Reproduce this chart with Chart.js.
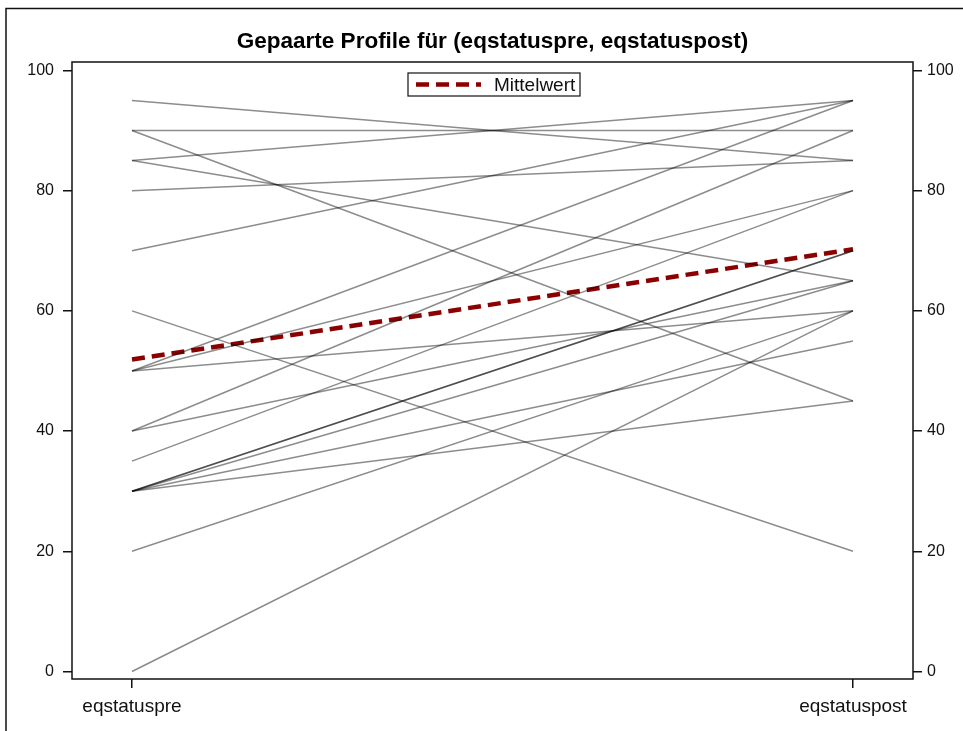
<!DOCTYPE html>
<html lang="de">
<head>
<meta charset="UTF-8">
<title>Gepaarte Profile für (eqstatuspre, eqstatuspost)</title>
<script src="https://cdn.jsdelivr.net/npm/chart.js"></script>
<style>
  body { margin: 0; background: #fff; }
  #wrap { width: 963px; height: 731px; overflow: hidden; }
  canvas { display: block; }
</style>
</head>
<body>
<div id="wrap"><canvas id="profil" width="963" height="731"></canvas></div>
<script>
// Variablen (x-Achse) und Messwerte je Person: vorher / nachher
const variablen = ['eqstatuspre', 'eqstatuspost'];
const werteVor  = [95, 90, 90, 85, 85, 80, 70, 60, 50, 50, 50, 40, 40, 35, 30, 30, 30, 30, 30, 20, 0];
const werteNach = [85, 90, 45, 95, 65, 85, 95, 20, 95, 80, 60, 90, 65, 80, 70, 70, 65, 55, 45, 60, 60];
const yTicks = [0, 20, 40, 60, 80, 100];

const familie = "'Liberation Sans', Arial, sans-serif";
const zahlSchrift = { family: familie, size: 16 };
const textSchrift = { family: familie, size: 19 };
const mittel = arr => arr.reduce((s, v) => s + v, 0) / arr.length;

// eine Linie pro Person
const profile = werteVor.map((v, i) => ({
  label: 'Person ' + (i + 1),
  data: [{ x: 0, y: v }, { x: 1, y: werteNach[i] }],
  borderColor: 'rgba(0,0,0,0.45)',
  borderWidth: 1.5,
  pointRadius: 0
}));

const mittelwert = {
  label: 'Mittelwert',
  data: [{ x: 0, y: mittel(werteVor) }, { x: 1, y: mittel(werteNach) }],
  borderColor: '#8b0000',
  borderWidth: 4.5,
  borderDash: [13, 7],
  pointRadius: 0
};

// Rahmen um Plotbereich, äußerer Rahmen und Legende im Plot
const rahmen = {
  id: 'rahmen',
  afterDraw(chart) {
    const { ctx, chartArea: a } = chart;
    ctx.save();
    ctx.strokeStyle = '#111';
    ctx.lineWidth = 1.5;
    ctx.strokeRect(a.left, a.top, a.right - a.left, a.bottom - a.top);

    ctx.beginPath();
    ctx.moveTo(6, chart.height);
    ctx.lineTo(6, 8.5);
    ctx.lineTo(chart.width, 8.5);
    ctx.stroke();

    // Legende
    const w = 172, h = 23;
    const lx = (a.left + a.right) / 2 - w / 2 + 1.5;
    const ly = a.top + 11;
    ctx.fillStyle = '#fff';
    ctx.fillRect(lx, ly, w, h);
    ctx.lineWidth = 1.2;
    ctx.strokeRect(lx, ly, w, h);

    ctx.beginPath();
    ctx.strokeStyle = mittelwert.borderColor;
    ctx.lineWidth = mittelwert.borderWidth;
    ctx.setLineDash(mittelwert.borderDash);
    ctx.moveTo(lx + 8, ly + h / 2);
    ctx.lineTo(lx + 73, ly + h / 2);
    ctx.stroke();
    ctx.setLineDash([]);

    ctx.fillStyle = '#111';
    ctx.font = `${textSchrift.size}px ${familie}`;
    ctx.textBaseline = 'middle';
    ctx.fillText(mittelwert.label, lx + 86, ly + h / 2 + 1);
    ctx.restore();
  }
};

const yAchse = (pos, breite, abstand) => ({
  type: 'linear',
  position: pos,
  min: -1.25,
  max: 101.4,
  afterBuildTicks: s => { s.ticks = yTicks.map(v => ({ value: v })); },
  afterFit: s => { s.width = breite; },
  ticks: { font: zahlSchrift, color: '#111', padding: abstand },
  grid: { drawOnChartArea: false, tickLength: 9, color: '#111', lineWidth: 1.5 },
  border: { display: false }
});

new Chart(document.getElementById('profil'), {
  type: 'line',
  data: { datasets: [...profile, mittelwert] },
  plugins: [rahmen],
  options: {
    responsive: false,
    animation: false,
    layout: { padding: 0 },
    plugins: {
      legend: { display: false },
      tooltip: { enabled: false },
      title: {
        display: true,
        fullSize: false,
        text: 'Gepaarte Profile für (eqstatuspre, eqstatuspost)',
        color: '#000',
        font: { family: familie, size: 22.5, weight: 'bold', lineHeight: 1.2 },
        padding: { top: 28.5, bottom: 6.5 }
      }
    },
    scales: {
      x: {
        type: 'linear',
        min: -0.0832,
        max: 1.0832,
        afterBuildTicks: s => { s.ticks = [0, 1].map(v => ({ value: v })); },
        afterFit: s => { s.height = 52; },
        ticks: {
          callback: v => variablen[v],
          font: textSchrift, color: '#111', padding: 7,
          maxRotation: 0, autoSkip: false
        },
        grid: { drawOnChartArea: false, tickLength: 9, color: '#111', lineWidth: 1.5 },
        border: { display: false }
      },
      y: yAchse('left', 72, 9),
      y2: yAchse('right', 50, 5)
    }
  }
});
</script>
</body>
</html>
